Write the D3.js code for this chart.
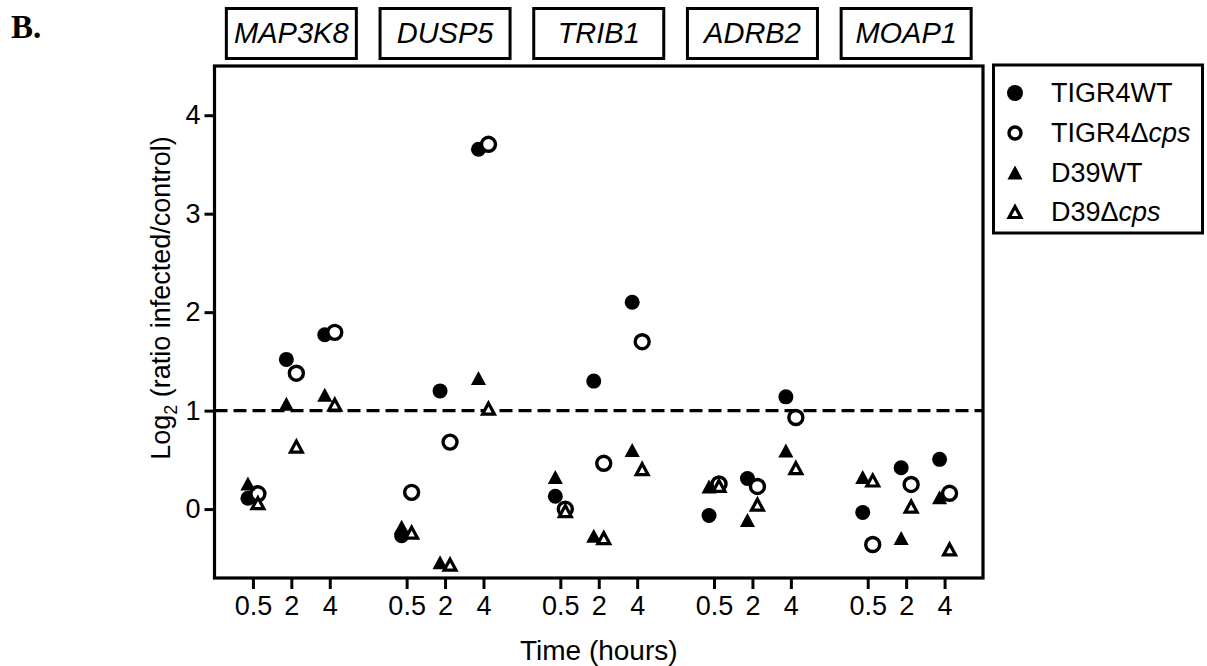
<!DOCTYPE html>
<html>
<head>
<meta charset="utf-8">
<script src="https://cdn.jsdelivr.net/npm/d3@7"></script>
<style>
  html, body { margin: 0; padding: 0; background: #fff; }
  svg { display: block; }
  text { font-family: "Liberation Sans", Arial, sans-serif; fill: #000; }
</style>
</head>
<body>
<svg id="chart" width="1207" height="666"></svg>
<script>
// ---------- data ----------
const genes = ["MAP3K8", "DUSP5", "TRIB1", "ADRB2", "MOAP1"];
const times = ["0.5", "2", "4"];
const seriesNames = ["TIGR4WT", "TIGR4Δcps", "D39WT", "D39Δcps"];
const yTicks = [0, 1, 2, 3, 4];
const threshold = 1;

// values listed gene by gene, each gene: 0.5 h, 2 h, 4 h
const tigr4WT  = [0.11, 1.52, 1.77,   -0.27, 1.20, 3.655,   0.13, 1.30, 2.10,   -0.065, 0.31, 1.14,   -0.035, 0.42, 0.505];
const tigr4Cps = [0.155, 1.38, 1.795,  0.17, 0.68, 3.705,   0.00, 0.465, 1.70,   0.255, 0.23, 0.93,   -0.36, 0.25, 0.16];
const d39WT    = [0.26, 1.07, 1.16,   -0.18, -0.54, 1.33,   0.325, -0.27, 0.60,  0.23, -0.11, 0.595,   0.325, -0.295, 0.12];
const d39Cps   = [0.06, 0.635, 1.06,  -0.24, -0.565, 1.02,  -0.02, -0.295, 0.405, 0.235, 0.045, 0.415,  0.29, 0.025, -0.41];
const seriesValues = [tigr4WT, tigr4Cps, d39WT, d39Cps];

(function () {
// ---------- layout ----------
const svg = d3.select("#chart");
const pLeft = 214.5, pRight = 983, pTop = 66, pBottom = 578;
const x = d3.scaleLinear().domain([-1, 19]).range([pLeft, pRight]);
const y = d3.scaleLinear().domain([-0.7, 4.5]).range([pBottom, pTop]);
const pos = (g, t) => g * 4 + t;
const jitter = [-0.13, 0.13, -0.13, 0.13];

// custom triangle centered on its bounding box
const triangle = {
  draw(ctx, size) {
    const h = Math.sqrt(size);
    const w = h * 1.08;
    ctx.moveTo(0, -h / 2);
    ctx.lineTo(w / 2, h / 2);
    ctx.lineTo(-w / 2, h / 2);
    ctx.closePath();
  }
};
const markerStyles = [
  { type: d3.symbolCircle, size: Math.PI * 7.5 * 7.5, fill: "#000", stroke: "none", sw: 0 },
  { type: d3.symbolCircle, size: Math.PI * 7.0 * 7.0, fill: "#fff", stroke: "#000", sw: 3.4 },
  { type: triangle, size: 14 * 14, fill: "#000", stroke: "none", sw: 0 },
  { type: triangle, size: 11 * 11, fill: "#fff", stroke: "#000", sw: 3.2 }
];

// ---------- "B." ----------
svg.append("text").attr("x", 11).attr("y", 38)
  .style("font-family", "'Liberation Serif', 'Times New Roman', serif")
  .style("font-weight", "bold").style("font-size", "33px").text("B.");

// ---------- gene header boxes ----------
genes.forEach((g, i) => {
  const cx = x(pos(i, 1));
  svg.append("rect").attr("x", cx - 65).attr("y", 8.5).attr("width", 130).attr("height", 50)
    .attr("fill", "none").attr("stroke", "#000").attr("stroke-width", 3);
  svg.append("text").attr("x", cx).attr("y", 43).attr("text-anchor", "middle")
    .style("font-style", "italic").style("font-size", "29px").text(g);
});

// ---------- axes ----------
const xTickVals = [];
const xTickLab = [];
genes.forEach((g, i) => times.forEach((t, j) => { xTickVals.push(pos(i, j)); xTickLab.push(t); }));

const xAxis = svg.append("g").attr("transform", `translate(0,${pBottom})`)
  .call(d3.axisBottom(x).tickValues(xTickVals).tickFormat((d, i) => xTickLab[i]).tickSize(11).tickPadding(7));
xAxis.select(".domain").remove();
xAxis.selectAll("line").attr("stroke", "#000").attr("stroke-width", 3);
xAxis.selectAll("text").attr("font-size", null).attr("font-family", null)
  .style("font-size", "27px").style("font-family", "'Liberation Sans', Arial, sans-serif");
xAxis.attr("font-size", null).attr("font-family", null);

const yAxis = svg.append("g").attr("transform", `translate(${pLeft},0)`)
  .call(d3.axisLeft(y).tickValues(yTicks).tickFormat(d3.format("d")).tickSize(10).tickPadding(4));
yAxis.select(".domain").remove();
yAxis.attr("font-size", null).attr("font-family", null);
yAxis.selectAll("line").attr("stroke", "#000").attr("stroke-width", 3);
yAxis.selectAll("text").style("font-size", "27px").style("font-family", "'Liberation Sans', Arial, sans-serif");

// frame
svg.append("rect").attr("x", pLeft).attr("y", pTop).attr("width", pRight - pLeft).attr("height", pBottom - pTop)
  .attr("fill", "none").attr("stroke", "#000").attr("stroke-width", 3.2);

// threshold dashed line
svg.append("line").attr("x1", pLeft).attr("x2", pRight).attr("y1", y(threshold)).attr("y2", y(threshold))
  .attr("stroke", "#000").attr("stroke-width", 3.4).attr("stroke-dasharray", "13,6");

// axis titles
svg.append("text").attr("x", x(9)).attr("y", 660).attr("text-anchor", "middle")
  .style("font-size", "28px").text("Time (hours)");

const yl = svg.append("text").attr("transform", "translate(170,298) rotate(-90)")
  .attr("text-anchor", "middle").style("font-size", "27px");
yl.append("tspan").text("Log");
yl.append("tspan").attr("dy", 7).style("font-size", "18px").text("2");
yl.append("tspan").attr("dy", -7).text(" (ratio infected/control)");

// ---------- points ----------
seriesValues.forEach((vals, s) => {
  const st = markerStyles[s];
  const sym = d3.symbol().type(st.type).size(st.size);
  svg.append("g").selectAll("path").data(vals).join("path")
    .attr("d", sym)
    .attr("transform", (d, k) => `translate(${x(Math.floor(k / 3) * 4 + (k % 3) + jitter[s])},${y(d)})`)
    .attr("fill", st.fill).attr("stroke", st.stroke).attr("stroke-width", st.sw)
    .attr("stroke-linejoin", "miter");
});

// ---------- legend ----------
const lg = svg.append("g");
lg.append("rect").attr("x", 993.5).attr("y", 65).attr("width", 209).attr("height", 168)
  .attr("fill", "#fff").attr("stroke", "#000").attr("stroke-width", 3);
const legendY = [93, 133, 172.5, 212];
const legendSizes = [Math.PI * 8 * 8, Math.PI * 6 * 6, 14 * 14, 11 * 11];
seriesNames.forEach((name, s) => {
  const st = markerStyles[s];
  lg.append("path").attr("d", d3.symbol().type(st.type).size(legendSizes[s]))
    .attr("transform", `translate(1015,${legendY[s]})`)
    .attr("fill", st.fill).attr("stroke", st.stroke).attr("stroke-width", st.sw);
  const t = lg.append("text").attr("x", 1051).attr("y", legendY[s] + 9).style("font-size", "27px");
  const m = name.match(/^(.*?)(Δ)(.*)$/);
  if (m) {
    t.append("tspan").text(m[1] + m[2]);
    t.append("tspan").style("font-style", "italic").text(m[3]);
  } else {
    t.text(name);
  }
});
})();
</script>
</body>
</html>
